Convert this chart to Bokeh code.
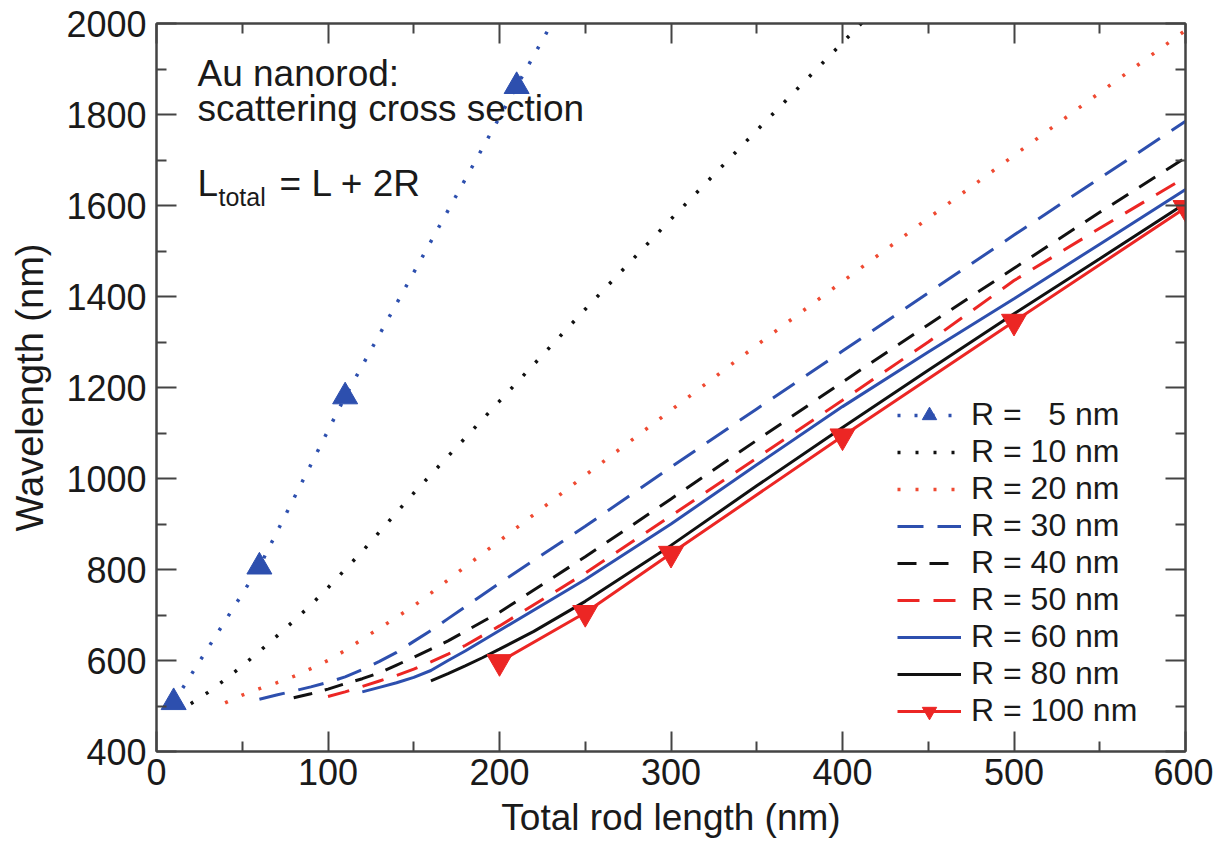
from bokeh.plotting import figure
from bokeh.models import Legend, LegendItem, LinearAxis, Label, FixedTicker, Range1d, CustomJSTickFormatter
from bokeh.embed import file_html
from bokeh.resources import INLINE

# ---------------- data ----------------
r5_x = [10, 60, 110, 210, 260]
r5_y = [508, 806, 1180, 1862, 2200]

r10_x = [20, 30, 40, 50, 60, 70, 80, 90, 100, 120, 150, 200, 250, 300, 350, 400, 420]
r10_y = [505, 530, 558, 588, 620, 653, 687, 722, 760, 840, 968, 1170, 1372, 1570, 1765, 1958, 2035]

r20_x = [40, 50, 60, 70, 80, 90, 100, 110, 120, 130, 140, 150, 160, 170, 180, 200, 250, 300, 350, 400, 450, 500, 550, 600]
r20_y = [507, 524, 538, 551, 565, 582, 600, 622, 647, 671, 695, 720, 748, 777, 806, 863, 1007, 1150, 1293, 1433, 1572, 1710, 1848, 1985]

r30_x = [60, 70, 80, 90, 100, 110, 120, 130, 140, 150, 160, 170, 180, 200, 250, 300, 350, 400, 450, 500, 550, 600]
r30_y = [515, 524, 533, 542, 552, 564, 580, 598, 618, 642, 666, 692, 718, 770, 895, 1025, 1153, 1280, 1408, 1535, 1660, 1785]

r40_x = [80, 90, 100, 110, 120, 130, 140, 150, 160, 170, 180, 200, 250, 300, 350, 400, 450, 500, 550, 600]
r40_y = [518, 527, 537, 549, 560, 573, 590, 607, 625, 643, 664, 706, 828, 955, 1084, 1212, 1338, 1462, 1585, 1705]

r50_x = [100, 110, 120, 130, 140, 150, 160, 170, 180, 200, 250, 300, 350, 400, 450, 500, 550, 600]
r50_y = [521, 531, 543, 555, 567, 581, 597, 614, 633, 676, 792, 918, 1045, 1172, 1300, 1435, 1550, 1662]

r60_x = [120, 130, 140, 150, 160, 170, 180, 200, 250, 300, 350, 400, 450, 500, 550, 600]
r60_y = [531, 541, 551, 563, 578, 600, 621, 666, 778, 900, 1030, 1158, 1278, 1395, 1515, 1635]

r80_x = [160, 170, 180, 190, 200, 220, 250, 300, 350, 400, 450, 500, 550, 600]
r80_y = [555, 571, 588, 606, 625, 664, 730, 853, 984, 1112, 1238, 1362, 1483, 1605]

r100_x = [200, 250, 300, 400, 500, 600]
r100_y = [597, 705, 835, 1093, 1345, 1595]

legend_labels = ["R = \u00a0\u00a05 nm", "R = 10 nm", "R = 20 nm", "R = 30 nm", "R = 40 nm",
                 "R = 50 nm", "R = 60 nm", "R = 80 nm", "R = 100 nm"]

x_major = [0, 100, 200, 300, 400, 500, 600]
x_minor = [50, 150, 250, 350, 450, 550]
y_major = [400, 600, 800, 1000, 1200, 1400, 1600, 1800, 2000]
y_minor = [500, 700, 900, 1100, 1300, 1500, 1700, 1900]

x_title = "Total rod length (nm)"
y_title = "Wavelength (nm)"

# ---------------- styling ----------------
FONT = "Liberation Sans"
BLUE = "#2d4fae"
BLACK = "#111111"
RED = "#ec2624"
ORANGE = "#ef4a32"
AX = "#444444"
TXT = "#1a1a1a"

p = figure(frame_width=1029, frame_height=728,
           x_range=Range1d(0, 600), y_range=Range1d(400, 2000),
           output_backend="svg", toolbar_location=None,
           min_border_left=156, min_border_right=28,
           min_border_top=23, min_border_bottom=80)
p.background_fill_color = "white"
p.border_fill_color = "white"
p.grid.visible = False
p.outline_line_color = AX
p.outline_line_width = 2

xt = FixedTicker(ticks=x_major, minor_ticks=x_minor)
yt = FixedTicker(ticks=y_major, minor_ticks=y_minor)


def style_axis(ax, show_labels):
    ax.axis_line_color = AX
    ax.axis_line_width = 2
    ax.major_tick_line_color = AX
    ax.major_tick_line_width = 2
    ax.minor_tick_line_color = AX
    ax.minor_tick_line_width = 2
    ax.major_tick_in = 20
    ax.major_tick_out = 0
    ax.minor_tick_in = 10
    ax.minor_tick_out = 0
    if show_labels:
        ax.major_label_text_font = FONT
        ax.major_label_text_font_size = "36px"
        ax.major_label_text_color = TXT
        ax.axis_label_text_font = FONT
        ax.axis_label_text_font_style = "normal"
        ax.axis_label_text_color = TXT
    else:
        ax.formatter = CustomJSTickFormatter(code="return ''")
        ax.major_label_standoff = 0


p.xaxis.ticker = xt
p.yaxis.ticker = yt
style_axis(p.xaxis[0], True)
style_axis(p.yaxis[0], True)
p.xaxis.axis_label = x_title
p.yaxis.axis_label = y_title
p.xaxis.axis_label_text_font_size = "37px"
p.yaxis.axis_label_text_font_size = "38px"
p.xaxis.major_label_standoff = 7
p.yaxis.major_label_standoff = 10
p.xaxis.axis_label_standoff = 9
p.yaxis.axis_label_standoff = 12

top_ax = LinearAxis(ticker=xt)
right_ax = LinearAxis(ticker=yt)
style_axis(top_ax, False)
style_axis(right_ax, False)
p.add_layout(top_ax, "above")
p.add_layout(right_ax, "right")

# ---------------- series ----------------
r5_l = p.line(r5_x, r5_y, line_color=BLUE, line_width=3.5, line_dash="3 14")
r5_m = p.scatter(r5_x, r5_y, marker="triangle", size=25, fill_color=BLUE, line_color=BLUE)
r10_l = p.line(r10_x, r10_y, line_color=BLACK, line_width=3.5, line_dash="3 15")
r20_l = p.line(r20_x, r20_y, line_color=ORANGE, line_width=3.5, line_dash="3 15")
r30_l = p.line(r30_x, r30_y, line_color=BLUE, line_width=3, line_dash="26 14")
r40_l = p.line(r40_x, r40_y, line_color=BLACK, line_width=3, line_dash="19 13")
r50_l = p.line(r50_x, r50_y, line_color=RED, line_width=3, line_dash="22 14")
r60_l = p.line(r60_x, r60_y, line_color=BLUE, line_width=3)
r80_l = p.line(r80_x, r80_y, line_color=BLACK, line_width=3)
r100_l = p.line(r100_x, r100_y, line_color=RED, line_width=3)
r100_m = p.scatter(r100_x, r100_y, marker="inverted_triangle", size=25, fill_color=RED, line_color=RED)

renderer_groups = [[r5_l, r5_m], [r10_l], [r20_l], [r30_l], [r40_l], [r50_l], [r60_l], [r80_l], [r100_l, r100_m]]
items = [LegendItem(label=lab, renderers=rs) for lab, rs in zip(legend_labels, renderer_groups)]
legend = Legend(items=items, location=(741, 22),
                label_text_font=FONT, label_text_font_size="32px", label_text_color=TXT,
                glyph_width=64, glyph_height=36, label_height=36, label_standoff=10,
                spacing=0, padding=0, margin=0,
                border_line_color=None, background_fill_alpha=0)
p.add_layout(legend, "center")

# ---------------- annotations ----------------
ann_lines = ["Au nanorod:", "scattering cross section"]
p.add_layout(Label(x=41, y=678, x_units="screen", y_units="screen", text=ann_lines[0],
                   text_font=FONT, text_font_size="37px", text_color=TXT, text_baseline="alphabetic"))
p.add_layout(Label(x=41, y=643, x_units="screen", y_units="screen", text=ann_lines[1],
                   text_font=FONT, text_font_size="37px", text_color=TXT, text_baseline="alphabetic"))
p.add_layout(Label(x=41, y=568, x_units="screen", y_units="screen", text="L",
                   text_font=FONT, text_font_size="37px", text_color=TXT, text_baseline="alphabetic"))
p.add_layout(Label(x=62, y=555, x_units="screen", y_units="screen", text="total",
                   text_font=FONT, text_font_size="25px", text_color=TXT, text_baseline="alphabetic"))
p.add_layout(Label(x=123, y=568, x_units="screen", y_units="screen", text="= L + 2R",
                   text_font=FONT, text_font_size="37px", text_color=TXT, text_baseline="alphabetic"))

open("out.html", "w").write(file_html(p, INLINE))
